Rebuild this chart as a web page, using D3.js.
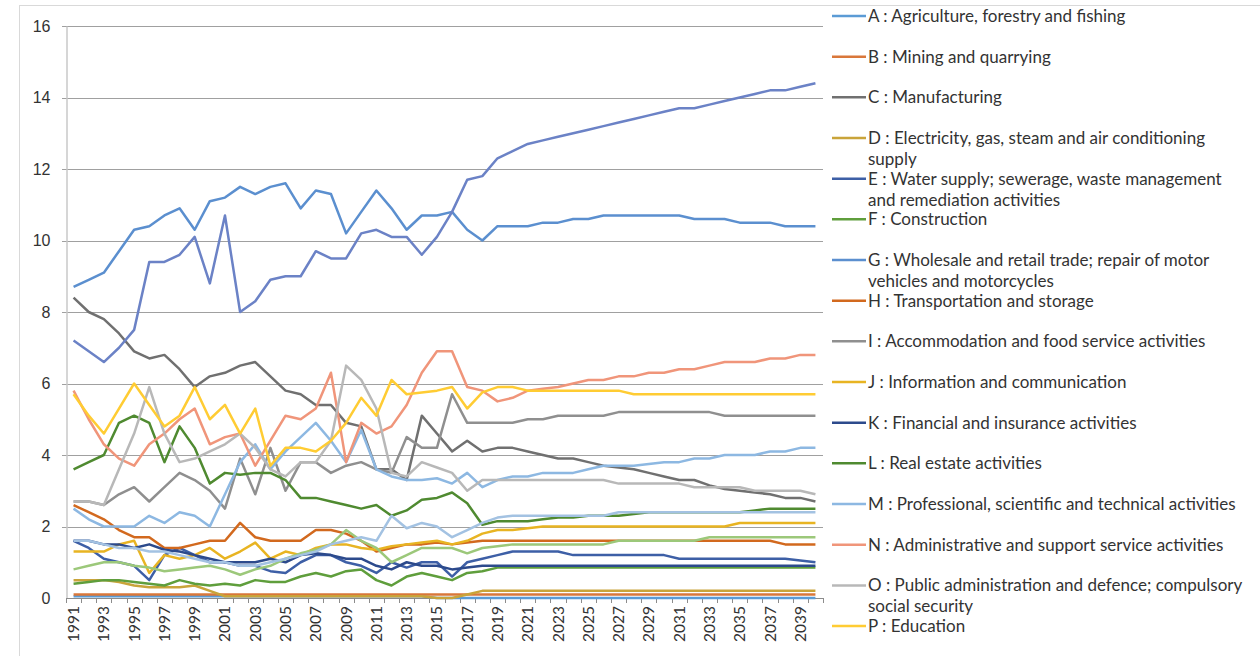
<!DOCTYPE html>
<html lang="en">
<head>
<meta charset="utf-8">
<title>Shares by sector 1991-2040</title>
<script src="https://cdn.jsdelivr.net/npm/d3@7/dist/d3.min.js"></script>
<style>
body { margin: 0; background: #fff; }
svg { display: block; font-family: Lato, "Open Sans", sans-serif; }
.grid line { stroke: #a0a0a0; stroke-width: 1; }
.yaxis text { font-size: 16px; fill: #333; }
.xaxis text { font-size: 15.5px; fill: #333; }
.series path { fill: none; stroke-width: 2.5; stroke-linejoin: round; }
.legend text { font-size: 17px; fill: #333; }
</style>
</head>
<body>
<script>
// categories
var years = d3.range(1991, 2041);
var yearLabels = [1991,1993,1995,1997,1999,2001,2003,2005,2007,2009,2011,2013,2015,2017,2019,
                  2021,2023,2025,2027,2029,2031,2033,2035,2037,2039];
var yTicks = [0, 2, 4, 6, 8, 10, 12, 14, 16];

// series codes and legend labels (wrapped as in the original legend)
// Q, R, S continue the legend below the visible area, so they get no entry here
var codes = ["A","B","C","D","E","F","G","H","I","J","K","L","M","N","O","P","Q","R","S"];
var labels = [
  ["A : Agriculture, forestry and fishing"],
  ["B : Mining and quarrying"],
  ["C : Manufacturing"],
  ["D : Electricity, gas, steam and air conditioning", "supply"],
  ["E : Water supply; sewerage, waste management", "and remediation activities"],
  ["F : Construction"],
  ["G : Wholesale and retail trade; repair of motor", "vehicles and motorcycles"],
  ["H : Transportation and storage"],
  ["I : Accommodation and food service activities"],
  ["J : Information and communication"],
  ["K : Financial and insurance activities"],
  ["L : Real estate activities"],
  ["M : Professional, scientific and technical activities"],
  ["N : Administrative and support service activities"],
  ["O : Public administration and defence; compulsory", "social security"],
  ["P : Education"]
];
var colors = ["#5b9bd5","#d9773a","#707070","#c9a43a","#3d5fa6","#5f9e3c","#5b8fcf","#d2691e",
              "#8f8f8f","#e8b422","#2c4a8c","#4f8a30","#8db8e2","#f0957a","#b8b8b8","#ffcc33",
              "#6b82c6","#9cc87a","#a3c2e2"];

// values, one per year 1991..2040
var valuesA = [0.05,0.05,0.05,0.05,0.05,0.05,0.05,0.05,0.05,0.05,
               0.05,0.05,0.05,0.05,0.05,0.05,0.05,0.05,0.05,0.05,
               0.05,0.05,0.05,0.05,0,0,0,0,0,0,
               0,0,0,0,0,0,0,0,0,0,
               0,0,0,0,0,0,0,0,0,0];
var valuesB = [0.1,0.1,0.1,0.1,0.1,0.1,0.1,0.1,0.1,0.1,
               0.1,0.1,0.1,0.1,0.1,0.1,0.1,0.1,0.1,0.1,
               0.1,0.1,0.1,0.1,0.1,0.1,0.1,0.1,0.1,0.1,
               0.1,0.1,0.1,0.1,0.1,0.1,0.1,0.1,0.1,0.1,
               0.1,0.1,0.1,0.1,0.1,0.1,0.1,0.1,0.1,0.1];
var valuesC = [8.4,8.0,7.8,7.4,6.9,6.7,6.8,6.4,5.9,6.2,
               6.3,6.5,6.6,6.2,5.8,5.7,5.4,5.4,4.9,4.8,
               3.6,3.6,3.3,5.1,4.6,4.1,4.4,4.1,4.2,4.2,
               4.1,4.0,3.9,3.9,3.8,3.7,3.65,3.6,3.5,3.4,
               3.3,3.3,3.15,3.05,3.0,2.95,2.9,2.8,2.8,2.7];
var valuesD = [0.5,0.5,0.5,0.45,0.35,0.3,0.3,0.3,0.35,0.2,
               0.05,0.05,0.05,0.05,0.05,0.05,0.05,0.05,0.05,0.05,
               0.05,0.05,0.05,0.05,0,0,0.1,0.2,0.2,0.2,
               0.2,0.2,0.2,0.2,0.2,0.2,0.2,0.2,0.2,0.2,
               0.2,0.2,0.2,0.2,0.2,0.2,0.2,0.2,0.2,0.2];
var valuesE = [1.6,1.4,1.1,1.0,0.9,0.5,1.2,1.4,1.2,1.0,
               1.0,0.9,0.9,0.75,0.7,1.0,1.2,1.2,1.0,0.9,
               0.7,1.0,0.85,1.0,1.0,0.6,1.0,1.1,1.2,1.3,
               1.3,1.3,1.3,1.2,1.2,1.2,1.2,1.2,1.2,1.2,
               1.1,1.1,1.1,1.1,1.1,1.1,1.1,1.1,1.05,1.0];
var valuesF = [0.4,0.45,0.5,0.5,0.45,0.4,0.35,0.5,0.4,0.35,
               0.4,0.35,0.5,0.45,0.45,0.6,0.7,0.6,0.75,0.8,
               0.5,0.35,0.6,0.7,0.6,0.5,0.7,0.75,0.85,0.85,
               0.85,0.85,0.85,0.85,0.85,0.85,0.85,0.85,0.85,0.85,
               0.85,0.85,0.85,0.85,0.85,0.85,0.85,0.85,0.85,0.85];
var valuesG = [8.7,8.9,9.1,9.7,10.3,10.4,10.7,10.9,10.3,11.1,
               11.2,11.5,11.3,11.5,11.6,10.9,11.4,11.3,10.2,10.8,
               11.4,10.9,10.3,10.7,10.7,10.8,10.3,10.0,10.4,10.4,
               10.4,10.5,10.5,10.6,10.6,10.7,10.7,10.7,10.7,10.7,
               10.7,10.6,10.6,10.6,10.5,10.5,10.5,10.4,10.4,10.4];
var valuesH = [2.6,2.4,2.2,1.9,1.7,1.7,1.4,1.4,1.5,1.6,
               1.6,2.1,1.7,1.6,1.6,1.6,1.9,1.9,1.8,1.6,
               1.3,1.4,1.5,1.5,1.55,1.5,1.55,1.6,1.6,1.6,
               1.6,1.6,1.6,1.6,1.6,1.6,1.6,1.6,1.6,1.6,
               1.6,1.6,1.6,1.6,1.6,1.6,1.6,1.5,1.5,1.5];
var valuesI = [2.7,2.7,2.6,2.9,3.1,2.7,3.1,3.5,3.3,3.0,
               2.5,3.9,2.9,4.2,3.0,3.8,3.8,3.5,3.7,3.8,
               3.6,3.5,4.5,4.2,4.2,5.7,4.9,4.9,4.9,4.9,
               5.0,5.0,5.1,5.1,5.1,5.1,5.2,5.2,5.2,5.2,
               5.2,5.2,5.2,5.1,5.1,5.1,5.1,5.1,5.1,5.1];
var valuesJ = [1.3,1.3,1.3,1.5,1.6,0.7,1.2,1.1,1.2,1.4,
               1.1,1.3,1.55,1.1,1.3,1.2,1.4,1.5,1.5,1.4,
               1.35,1.45,1.5,1.55,1.6,1.5,1.6,1.8,1.9,1.9,
               1.95,2.0,2.0,2.0,2.0,2.0,2.0,2.0,2.0,2.0,
               2.0,2.0,2.0,2.0,2.1,2.1,2.1,2.1,2.1,2.1];
var valuesK = [1.6,1.6,1.5,1.5,1.4,1.5,1.35,1.3,1.2,1.1,
               1.0,1.0,1.0,1.1,1.0,1.2,1.25,1.2,1.1,1.1,
               0.9,0.8,1.0,0.9,0.9,0.8,0.85,0.9,0.9,0.9,
               0.9,0.9,0.9,0.9,0.9,0.9,0.9,0.9,0.9,0.9,
               0.9,0.9,0.9,0.9,0.9,0.9,0.9,0.9,0.9,0.9];
var valuesL = [3.6,3.8,4.0,4.9,5.1,4.9,3.8,4.8,4.2,3.2,
               3.5,3.45,3.5,3.5,3.3,2.8,2.8,2.7,2.6,2.5,
               2.6,2.3,2.45,2.75,2.8,2.95,2.65,2.05,2.15,2.15,
               2.15,2.2,2.25,2.25,2.3,2.3,2.3,2.35,2.4,2.4,
               2.4,2.4,2.4,2.4,2.4,2.45,2.5,2.5,2.5,2.5];
var valuesM = [2.5,2.2,2.0,2.0,2.0,2.3,2.1,2.4,2.3,2.0,
               2.9,3.8,4.3,3.6,4.1,4.5,4.9,4.4,3.8,4.7,
               3.6,3.4,3.3,3.3,3.35,3.2,3.5,3.1,3.3,3.4,
               3.4,3.5,3.5,3.5,3.6,3.7,3.7,3.7,3.75,3.8,
               3.8,3.9,3.9,4.0,4.0,4.0,4.1,4.1,4.2,4.2];
var valuesN = [5.8,5.0,4.3,3.9,3.7,4.3,4.6,5.0,5.3,4.3,
               4.5,4.6,3.7,4.4,5.1,5.0,5.3,6.3,3.8,4.9,
               4.6,4.8,5.4,6.3,6.9,6.9,5.9,5.8,5.5,5.6,
               5.8,5.85,5.9,6.0,6.1,6.1,6.2,6.2,6.3,6.3,
               6.4,6.4,6.5,6.6,6.6,6.6,6.7,6.7,6.8,6.8];
var valuesO = [2.7,2.7,2.6,3.6,4.6,5.9,4.6,3.8,3.9,4.1,
               4.3,4.6,4.2,3.6,3.4,3.8,3.8,4.4,6.5,6.1,
               5.3,3.5,3.4,3.8,3.65,3.5,3.0,3.3,3.3,3.3,
               3.3,3.3,3.3,3.3,3.3,3.3,3.2,3.2,3.2,3.2,
               3.2,3.1,3.1,3.1,3.1,3.0,3.0,3.0,3.0,2.9];
var valuesP = [5.7,5.1,4.6,5.3,6.0,5.4,4.8,5.1,5.9,5.0,
               5.4,4.6,5.3,3.7,4.2,4.2,4.1,4.4,4.9,5.6,
               5.1,6.1,5.7,5.75,5.8,5.9,5.3,5.75,5.9,5.9,
               5.8,5.8,5.8,5.8,5.8,5.8,5.8,5.7,5.7,5.7,
               5.7,5.7,5.7,5.7,5.7,5.7,5.7,5.7,5.7,5.7];
var valuesQ = [7.2,6.9,6.6,7.0,7.5,9.4,9.4,9.6,10.1,8.8,
               10.7,8.0,8.3,8.9,9.0,9.0,9.7,9.5,9.5,10.2,
               10.3,10.1,10.1,9.6,10.1,10.8,11.7,11.8,12.3,12.5,
               12.7,12.8,12.9,13.0,13.1,13.2,13.3,13.4,13.5,13.6,
               13.7,13.7,13.8,13.9,14.0,14.1,14.2,14.2,14.3,14.4];
var valuesR = [0.8,0.9,1.0,1.0,0.9,0.85,0.75,0.8,0.85,0.9,
               0.8,0.65,0.8,0.9,1.1,1.25,1.35,1.5,1.9,1.6,
               1.4,1.0,1.2,1.4,1.4,1.4,1.25,1.4,1.45,1.5,
               1.5,1.5,1.5,1.5,1.5,1.5,1.6,1.6,1.6,1.6,
               1.6,1.6,1.7,1.7,1.7,1.7,1.7,1.7,1.7,1.7];
var valuesS = [1.6,1.6,1.5,1.4,1.4,1.3,1.3,1.2,1.1,1.0,
               1.0,0.9,0.9,1.0,1.1,1.2,1.3,1.5,1.6,1.7,
               1.6,2.3,1.95,2.1,2.0,1.7,1.9,2.1,2.25,2.3,
               2.3,2.3,2.3,2.3,2.3,2.3,2.4,2.4,2.4,2.4,
               2.4,2.4,2.4,2.4,2.4,2.4,2.4,2.4,2.4,2.4];

var allValues = [valuesA,valuesB,valuesC,valuesD,valuesE,valuesF,valuesG,valuesH,valuesI,valuesJ,
                 valuesK,valuesL,valuesM,valuesN,valuesO,valuesP,valuesQ,valuesR,valuesS];

var series = codes.map(function(c, i) {
  return { code: c, label: labels[i], color: colors[i], values: allValues[i] };
});

var width = 1260, height = 656;
var plot = { left: 66, right: 823, top: 26, bottom: 598 };

var svg = d3.select("body").append("svg")
  .attr("width", width)
  .attr("height", height);

// outer chart border
svg.append("rect")
  .attr("x", 19.5).attr("y", 5.5)
  .attr("width", 1300).attr("height", 700)
  .attr("fill", "none").attr("stroke", "#d9d9d9");

var x = d3.scaleBand().domain(years).range([plot.left, plot.right]);
var y = d3.scaleLinear().domain([0, 16]).range([plot.bottom, plot.top]);

// horizontal gridlines
svg.append("g").attr("class", "grid")
  .selectAll("line")
  .data(yTicks.filter(function(d){ return d > 0; }))
  .enter().append("line")
  .attr("x1", plot.left - 4).attr("x2", plot.right)
  .attr("y1", function(d){ return Math.round(y(d)) + 0.5; })
  .attr("y2", function(d){ return Math.round(y(d)) + 0.5; });

// y axis
var yAxis = svg.append("g").attr("class", "yaxis")
  .attr("transform", "translate(" + (plot.left + 0.5) + ",0)")
  .call(d3.axisLeft(y).tickValues(yTicks).tickSize(0).tickPadding(16));
yAxis.select(".domain").attr("stroke", "#c8c8c8").attr("stroke-width", 1.5);

// x axis with a tick at every category boundary
svg.append("g").attr("class", "xticks")
  .selectAll("line")
  .data(d3.range(years.length + 1))
  .enter().append("line")
  .attr("x1", function(i){ return Math.round(plot.left + i * x.step()) + 0.5; })
  .attr("x2", function(i){ return Math.round(plot.left + i * x.step()) + 0.5; })
  .attr("y1", plot.bottom).attr("y2", plot.bottom + 5)
  .attr("stroke", "#8c8c8c");

svg.append("line")
  .attr("x1", plot.left).attr("x2", plot.right)
  .attr("y1", plot.bottom + 0.5).attr("y2", plot.bottom + 0.5)
  .attr("stroke", "#8c8c8c");

svg.append("g").attr("class", "xaxis")
  .selectAll("text")
  .data(yearLabels)
  .enter().append("text")
  .attr("transform", function(d){
    return "translate(" + (x(d) + x.bandwidth() / 2 + 5.5) + "," + (plot.bottom + 8) + ") rotate(-90)";
  })
  .attr("text-anchor", "end")
  .text(function(d){ return d; });

// lines
var line = d3.line()
  .x(function(d, i){ return x(years[i]) + x.bandwidth() / 2; })
  .y(function(d){ return y(d); });

svg.append("g").attr("class", "series")
  .selectAll("path")
  .data(series)
  .enter().append("path")
  .attr("stroke", function(d){ return d.color; })
  .attr("d", function(d){ return line(d.values); });

// legend (only the entries that fit in the picture)
var legend = svg.append("g").attr("class", "legend")
  .selectAll("g")
  .data(series.filter(function(d){ return d.label; }))
  .enter().append("g")
  .attr("transform", function(d, i){ return "translate(832," + (16 + i * 40.67) + ")"; });

legend.append("line")
  .attr("x1", 0).attr("x2", 34)
  .attr("stroke", function(d){ return d.color; })
  .attr("stroke-width", 2.5);

legend.append("text")
  .attr("x", 36)
  .attr("y", 6)
  .selectAll("tspan")
  .data(function(d){ return d.label; })
  .enter().append("tspan")
  .attr("x", 36)
  .attr("dy", function(d, i){ return i === 0 ? 0 : 21; })
  .text(function(d){ return d; });
</script>
</body>
</html>
